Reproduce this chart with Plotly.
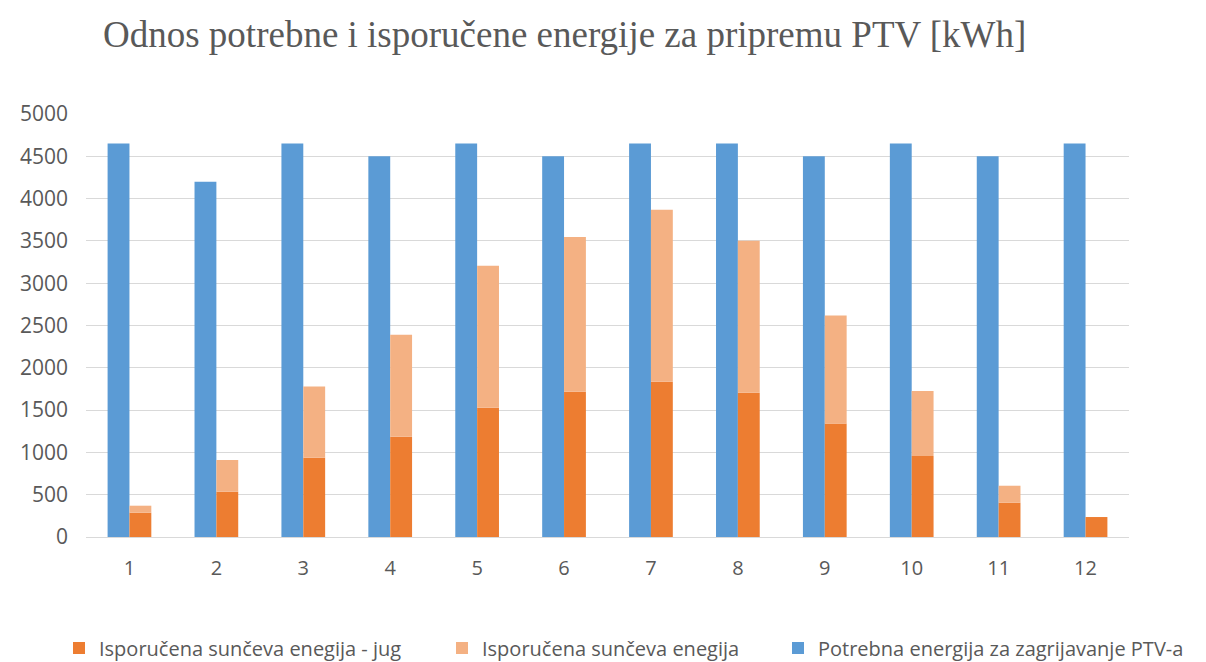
import plotly.graph_objects as go

months = ["1", "2", "3", "4", "5", "6", "7", "8", "9", "10", "11", "12"]
potrebna = [4650, 4200, 4650, 4500, 4650, 4500, 4650, 4650, 4500, 4650, 4500, 4650]
jug = [287, 535, 937, 1185, 1528, 1717, 1836, 1706, 1343, 957, 405, 236]
ukupno = [370, 910, 1780, 2391, 3207, 3546, 3869, 3502, 2619, 1726, 606, 236]

dodatno = [u - j for u, j in zip(ukupno, jug)]

BLUE = "#5B9BD5"
ORANGE = "#ED7D31"
LIGHT = "#F4B183"
TXT = "#595959"

fig = go.Figure()
fig.add_trace(go.Bar(x=months, y=potrebna, name="Potrebna energija za zagrijavanje PTV-a",
                     marker=dict(color=BLUE, line=dict(width=0)), offsetgroup="a", legend="legend3"))
fig.add_trace(go.Bar(x=months, y=jug, name="Isporučena sunčeva enegija - jug",
                     marker=dict(color=ORANGE, line=dict(width=0)), offsetgroup="b", legend="legend"))
fig.add_trace(go.Bar(x=months, y=dodatno, base=jug, name="Isporučena sunčeva enegija",
                     marker=dict(color=LIGHT, line=dict(width=0)), offsetgroup="b", legend="legend2"))

leg_y = 1 - 640 / 662
def leg(xpx):
    return dict(orientation="h", xref="container", x=xpx / 1206, xanchor="left",
                yref="container", y=leg_y, yanchor="middle",
                font=dict(size=20, color=TXT, family="Open Sans"), itemwidth=30,
                bgcolor="rgba(0,0,0,0)")

fig.update_layout(
    width=1206, height=662,
    paper_bgcolor="white", plot_bgcolor="white",
    barmode="group", bargap=0.497, bargroupgap=0,
    margin=dict(l=71, r=85, t=106, b=133),
    font=dict(family="Open Sans", color=TXT, size=20),
    title=dict(text="Odnos potrebne i isporučene energije za pripremu PTV [kWh]",
               font=dict(family="Liberation Serif", size=37, color=TXT),
               x=95/1206, xanchor="left", y=1 - 26/662, yanchor="middle"),
    legend=leg(51),
    legend2=leg(434),
    legend3=leg(770),
    showlegend=True,
)
fig.update_yaxes(range=[0, 5000], dtick=500, showgrid=True, gridcolor="#D9D9D9", gridwidth=1,
                 zeroline=False, showline=False, ticks="", ticklen=0,
                 tickfont=dict(size=21, color=TXT), ticklabelstandoff=17)
fig.update_xaxes(showline=True, linecolor="#D9D9D9", linewidth=1, ticks="",
                 tickfont=dict(size=20, color=TXT), ticklabelstandoff=13)

fig.write_html("out.html")
